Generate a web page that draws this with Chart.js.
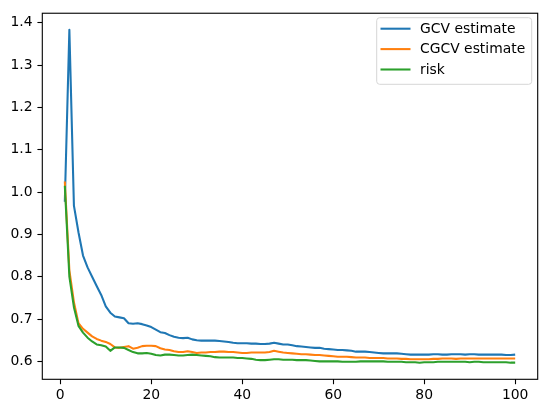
<!DOCTYPE html>
<html>
<head>
<meta charset="utf-8">
<script src="https://cdn.jsdelivr.net/npm/chart.js@4.4.0/dist/chart.umd.min.js"></script>
<style>
html,body{margin:0;padding:0;background:#fff;}
#wrap{width:547px;height:413px;position:relative;}
</style>
</head>
<body>
<div id="wrap"><canvas id="c" width="547" height="413"></canvas></div>
<script>
const seriesNames = ["GCV estimate", "CGCV estimate", "risk"];
const seriesColors = ["#1f77b4", "#ff7f0e", "#2ca02c"];
const xTicks = [0, 20, 40, 60, 80, 100];
const yTicks = [0.6, 0.7, 0.8, 0.9, 1.0, 1.1, 1.2, 1.3, 1.4];

const gcv = [
0.977,1.383,0.968,0.905,0.850,0.822,0.800,0.778,0.757,0.730,
0.715,0.706,0.704,0.702,0.690,0.689,0.690,0.688,0.685,0.681,
0.675,0.669,0.667,0.662,0.658,0.656,0.655,0.656,0.652,0.650,
0.649,0.649,0.649,0.649,0.648,0.647,0.646,0.644,0.643,0.643,
0.643,0.642,0.642,0.641,0.641,0.642,0.644,0.642,0.640,0.640,
0.638,0.636,0.635,0.634,0.633,0.632,0.632,0.630,0.629,0.628,
0.627,0.627,0.626,0.625,0.623,0.623,0.623,0.622,0.621,0.620,
0.619,0.619,0.619,0.619,0.618,0.617,0.616,0.616,0.616,0.616,
0.616,0.617,0.617,0.616,0.616,0.617,0.617,0.617,0.616,0.617,
0.617,0.616,0.616,0.616,0.616,0.616,0.616,0.615,0.615,0.616];

const cgcv = [
1.025,0.815,0.740,0.690,0.677,0.668,0.659,0.653,0.649,0.646,
0.641,0.633,0.632,0.634,0.636,0.630,0.632,0.636,0.637,0.637,
0.636,0.631,0.628,0.627,0.624,0.622,0.622,0.624,0.622,0.620,
0.621,0.621,0.622,0.622,0.623,0.623,0.622,0.622,0.621,0.620,
0.620,0.621,0.621,0.621,0.621,0.622,0.625,0.623,0.621,0.620,
0.619,0.618,0.617,0.617,0.616,0.615,0.615,0.614,0.613,0.612,
0.611,0.611,0.611,0.610,0.609,0.609,0.609,0.608,0.608,0.608,
0.608,0.607,0.607,0.607,0.606,0.606,0.605,0.605,0.605,0.605,
0.605,0.606,0.606,0.607,0.607,0.607,0.606,0.607,0.607,0.607,
0.607,0.607,0.607,0.607,0.607,0.607,0.607,0.607,0.607,0.607];

const risk = [
1.015,0.800,0.728,0.684,0.668,0.656,0.647,0.640,0.638,0.635,
0.625,0.633,0.633,0.632,0.627,0.622,0.619,0.619,0.620,0.618,
0.615,0.614,0.616,0.616,0.615,0.614,0.614,0.615,0.616,0.615,
0.614,0.613,0.612,0.610,0.609,0.609,0.609,0.609,0.608,0.608,
0.607,0.606,0.604,0.603,0.603,0.604,0.605,0.605,0.604,0.604,
0.604,0.603,0.603,0.603,0.602,0.601,0.600,0.600,0.600,0.600,
0.600,0.599,0.599,0.599,0.599,0.600,0.600,0.600,0.600,0.600,
0.600,0.599,0.599,0.599,0.599,0.598,0.598,0.598,0.597,0.598,
0.598,0.598,0.599,0.599,0.599,0.599,0.599,0.599,0.599,0.598,
0.599,0.599,0.598,0.598,0.598,0.598,0.598,0.598,0.597,0.597];

const xs = gcv.map((_, i) => i + 1);
const allSeries = [gcv, cgcv, risk];

const FONT = "'DejaVu Sans', sans-serif";
const FS = 13.9;

const datasets = allSeries.map((s, k) => ({
  label: seriesNames[k],
  data: s.map((v, i) => ({x: xs[i], y: v})),
  borderColor: seriesColors[k],
  backgroundColor: seriesColors[k],
  borderWidth: 2.08,
  pointRadius: 0,
  tension: 0,
  fill: false,
  order: allSeries.length - k,
  borderJoinStyle: 'round',
  borderCapStyle: 'butt'
}));

// data limits with 5% margins (matplotlib style)
const xMinD = Math.min(...xs), xMaxD = Math.max(...xs);
const allY = allSeries.flat();
const yMinD = Math.min(...allY), yMaxD = Math.max(...allY);
const xm = (xMaxD - xMinD) * 0.05, ym = (yMaxD - yMinD) * 0.05;

const framePlugin = {
  id: 'frame',
  afterDraw(chart) {
    const {ctx, chartArea: a} = chart;
    ctx.save();
    ctx.strokeStyle = '#000';
    ctx.lineWidth = 1.1;
    ctx.strokeRect(a.left, a.top, a.right - a.left, a.bottom - a.top);
    // legend
    const bx = 376.7, by = 17.7, bw = 155, bh = 66.6, r = 3;
    ctx.globalAlpha = 0.8;
    ctx.fillStyle = '#fff';
    ctx.beginPath();
    ctx.roundRect(bx, by, bw, bh, r);
    ctx.fill();
    ctx.globalAlpha = 1;
    ctx.strokeStyle = '#d6d6d6';
    ctx.lineWidth = 1;
    ctx.stroke();
    ctx.font = FS + 'px ' + FONT;
    ctx.textBaseline = 'middle';
    ctx.textAlign = 'left';
    chart.data.datasets.forEach((d, i) => {
      const yy = by + 11 + i * 20.4;
      ctx.strokeStyle = d.borderColor;
      ctx.lineWidth = 2.08;
      ctx.beginPath();
      ctx.moveTo(380.5, yy);
      ctx.lineTo(410.5, yy);
      ctx.stroke();
      ctx.fillStyle = '#000';
      ctx.fillText(d.label, 420, yy + 0.5);
    });
    ctx.restore();
  }
};

new Chart(document.getElementById('c'), {
  type: 'line',
  data: {datasets},
  options: {
    responsive: false,
    animation: false,
    devicePixelRatio: 1,
    layout: {padding: {left: 0, right: 9.3, top: 10, bottom: 0}},
    plugins: {legend: {display: false}, tooltip: {enabled: false}},
    scales: {
      x: {
        type: 'linear',
        min: xMinD - xm,
        max: xMaxD + xm,
        afterBuildTicks(scale) { scale.ticks = xTicks.map(v => ({value: v})); },
        afterFit(scale) { scale.height = 33.7; },
        grid: {display: true, drawOnChartArea: false, drawTicks: true, tickLength: 4.9, tickColor: '#000', tickWidth: 1.1},
        border: {display: false},
        ticks: {color: '#000', font: {family: FONT, size: FS}, padding: 3, maxRotation: 0, autoSkip: false,
          callback: v => String(v)}
      },
      y: {
        type: 'linear',
        min: yMinD - ym,
        max: yMaxD + ym,
        afterBuildTicks(scale) { scale.ticks = yTicks.map(v => ({value: v})); },
        afterFit(scale) { scale.width = 42.3; },
        grid: {display: true, drawOnChartArea: false, drawTicks: true, tickLength: 4.9, tickColor: '#000', tickWidth: 1.1},
        border: {display: false},
        ticks: {color: '#000', font: {family: FONT, size: FS}, padding: 4.9, autoSkip: false,
          callback: v => v.toFixed(1)}
      }
    }
  },
  plugins: [framePlugin]
});
</script>
</body>
</html>
